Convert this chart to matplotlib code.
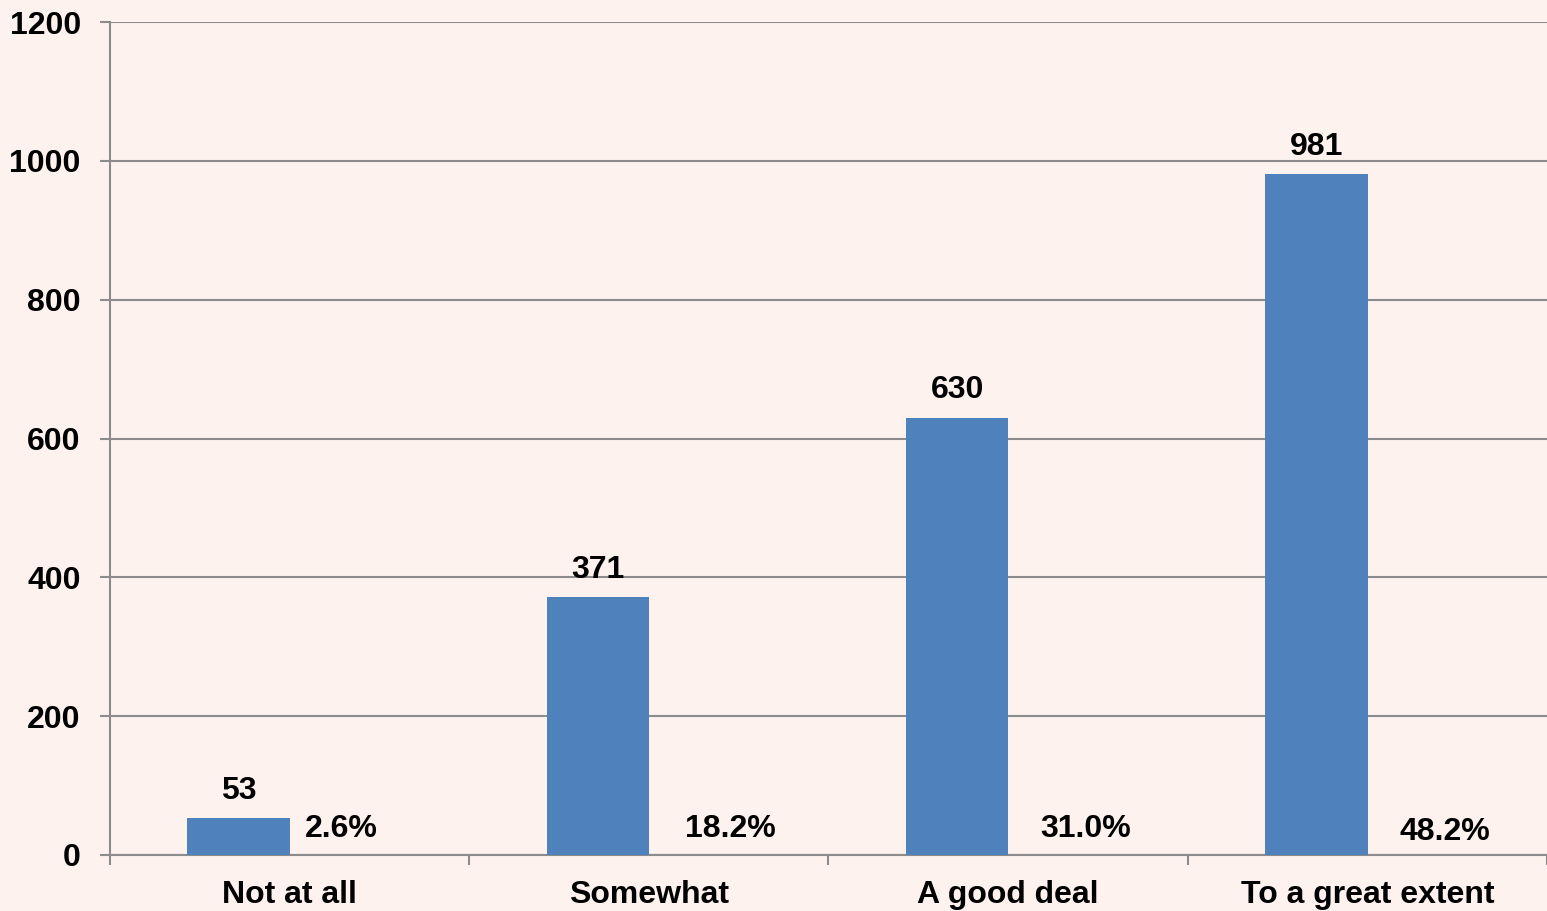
import numpy as np
import matplotlib.pyplot as plt

# Survey responses: counts and share of total
categories = ["Not at all", "Somewhat", "A good deal", "To a great extent"]
counts = [53, 371, 630, 981]
shares = ["2.6%", "18.2%", "31.0%", "48.2%"]
y_ticks = [0, 200, 400, 600, 800, 1000, 1200]

bg = "#FDF2ED"
bar_color = "#4F81BD"
grid_color = "#8C8C8C"

plt.rcParams["font.family"] = ["Liberation Sans", "DejaVu Sans"]
plt.rcParams["font.weight"] = "bold"

fig = plt.figure(figsize=(15.47, 9.11), dpi=100, facecolor=bg)
ax = fig.add_axes([0.0711, 0.0615, 0.9289, 0.9143], facecolor=bg)

x = np.arange(len(categories))
bar_w = 0.285
offset = 0.142

bars = ax.bar(x - offset, counts, width=bar_w, color=bar_color, zorder=3)

# count labels above each bar
for rect, c in zip(bars, counts):
    ax.annotate(str(c), (rect.get_x() + rect.get_width() / 2, rect.get_height()),
                xytext=(0, 9), textcoords="offset points",
                ha="center", va="bottom", fontsize=23, fontweight="bold")

# percentage labels sit to the right of each bar (hand-placed, as in the source)
pct_dx = [0.143, 0.227, 0.216, 0.216]
pct_y = [38, 38, 38, 33]
for xi, s, dx, yy in zip(x, shares, pct_dx, pct_y):
    ax.text(xi + dx, yy, s, ha="center", va="center",
            fontsize=23, fontweight="bold")

ax.set_ylim(0, 1200)
ax.set_xlim(-0.5, 3.463)
ax.set_yticks(y_ticks)
ax.set_yticklabels([str(t) for t in y_ticks], fontsize=23, fontweight="bold")
ax.yaxis.grid(True, color=grid_color, linewidth=1.5, zorder=0)
ax.set_axisbelow(True)

# category boundaries as ticks, names in the middle
ax.set_xticks(np.arange(len(categories) + 1) - 0.5)
ax.set_xticklabels([])
ax.set_xticks(x, minor=True)
ax.set_xticklabels(categories, minor=True, fontsize=23, fontweight="bold")
ax.tick_params(axis="x", which="major", length=7, width=1.5, color=grid_color, direction="out")
ax.tick_params(axis="x", which="minor", length=0, pad=18)
ax.tick_params(axis="y", length=7, width=1.5, color=grid_color, pad=14)

for side in ["top", "right"]:
    ax.spines[side].set_visible(False)
for side in ["left", "bottom"]:
    ax.spines[side].set_color(grid_color)
    ax.spines[side].set_linewidth(1.5)

fig.savefig("out.png", dpi=100, facecolor=bg)
